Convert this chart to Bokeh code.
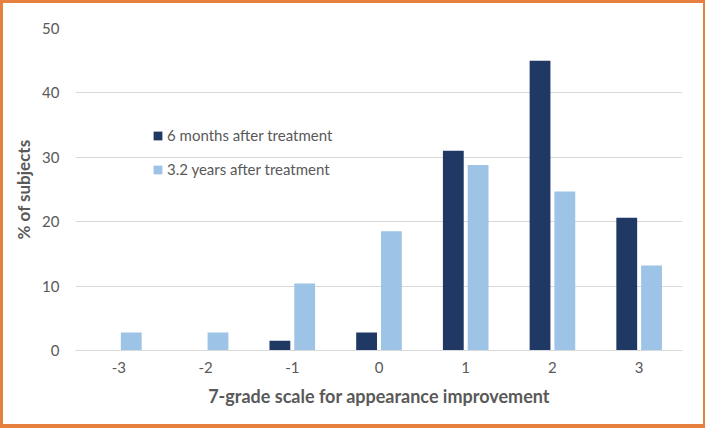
from bokeh.plotting import figure
from bokeh.models import ColumnDataSource, FactorRange, Range1d, Legend, LegendItem, InlineStyleSheet
from bokeh.transform import dodge
from bokeh.embed import file_html
from bokeh.resources import INLINE

grades = ["-3", "-2", "-1", "0", "1", "2", "3"]
six_months = [0, 0, 1.5, 2.8, 31.0, 45.0, 20.6]
three_years = [2.8, 2.8, 10.4, 18.5, 28.8, 24.7, 13.2]
series_names = ["6 months after treatment", "3.2 years after treatment"]
y_ticks = [0, 10, 20, 30, 40, 50]

DARK = "#203864"
LIGHT = "#9DC3E6"
TEXT = "#595959"
GRID = "#D9D9D9"
BORDER = "#E5803F"
FONT = "Lato"

W, H = 705, 428

src = ColumnDataSource(dict(g=grades, a=six_months, b=three_years))

p = figure(
    x_range=FactorRange(*grades, range_padding=0),
    y_range=Range1d(0, 50),
    width=W, height=H,
    min_border_left=75, min_border_right=23, min_border_top=28, min_border_bottom=78,
    output_backend="svg", toolbar_location=None,
)
p.outline_line_color = None
p.background_fill_color = "white"
p.border_fill_color = "white"
p.stylesheets = [InlineStyleSheet(css=(
    ":host { position: relative; }\n"
    ":host::after { content: ''; position: absolute; left: 0; top: 0; "
    "width: %dpx; height: %dpx; box-sizing: border-box; "
    "border: 3px solid %s; border-bottom-width: 4px; border-right-width: 2px; "
    "pointer-events: none; z-index: 100; }" % (W, H, BORDER)
))]

r1 = p.vbar(x=dodge("g", -0.143, range=p.x_range), top="a", width=0.24, source=src,
            fill_color=DARK, line_color=None)
r2 = p.vbar(x=dodge("g", 0.143, range=p.x_range), top="b", width=0.24, source=src,
            fill_color=LIGHT, line_color=None)

p.xgrid.grid_line_color = None
p.ygrid.grid_line_color = GRID
p.ygrid.grid_line_width = 1
p.yaxis.ticker = y_ticks

for ax in (p.xaxis[0], p.yaxis[0]):
    ax.major_tick_line_color = None
    ax.minor_tick_line_color = None
    ax.major_label_text_font = FONT
    ax.major_label_text_font_size = "15px"
    ax.major_label_text_color = TEXT
    ax.axis_label_text_font = FONT
    ax.axis_label_text_font_style = "bold"
    ax.axis_label_text_color = TEXT

p.yaxis.axis_line_color = None
p.yaxis.major_label_standoff = 10
p.yaxis.axis_label = "% of subjects"
p.yaxis.axis_label_text_font_size = "17px"
p.yaxis.axis_label_standoff = 5

p.xaxis.axis_line_color = GRID
p.xaxis.major_label_standoff = 5
p.xaxis.axis_label = "7-grade scale for appearance improvement"
p.xaxis.axis_label_text_font_size = "18px"
p.xaxis.axis_label_standoff = 9

legend = Legend(
    items=[LegendItem(label=series_names[0], renderers=[r1]),
           LegendItem(label=series_names[1], renderers=[r2])],
    location=(77, 172),
    orientation="vertical",
    background_fill_alpha=0,
    border_line_color=None,
    padding=0, margin=0,
    spacing=16,
    glyph_width=11, glyph_height=11,
    label_standoff=4,
    label_text_font=FONT,
    label_text_font_size="15px",
    label_text_color=TEXT,
)
p.add_layout(legend, "center")

open("out.html", "w").write(file_html(p, INLINE))
